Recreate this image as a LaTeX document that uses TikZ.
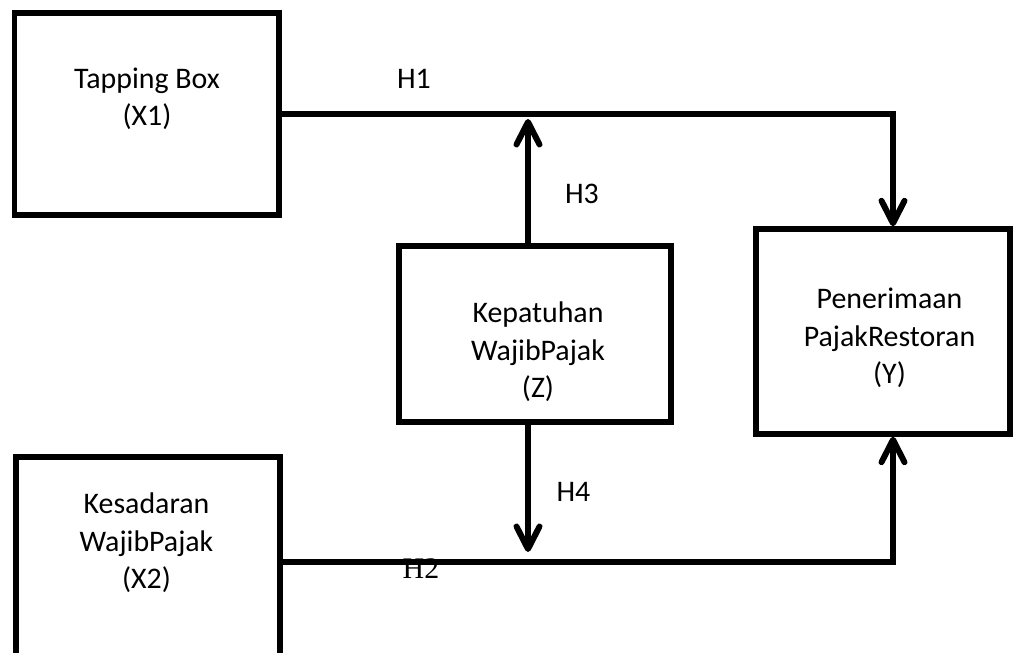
\documentclass[tikz,border=0pt]{standalone}
\usepackage{fontspec}
\setmainfont{Carlito}
\newfontfamily\timesfont{Liberation Serif}
\usetikzlibrary{arrows.meta}

\begin{document}
\begin{tikzpicture}[
    varbox/.style={draw, line width=3.1pt, inner sep=0pt},
    txt/.style={align=center, font=\fontsize{17}{21.3}\selectfont},
    link/.style={line width=3.4pt},
    arrowlink/.style={-{Straight Barb[round,length=0.45cm,width=0.46cm]}}
]
    \useasboundingbox (0,0) rectangle (20.4,-13.06);
    \node (tapping_box) [varbox, minimum width=5.29cm, minimum height=4.04cm] at (2.935,-2.28) {};
    \node (kesadaran_box) [varbox, minimum width=5.28cm, minimum height=4.2cm] at (2.96,-11.24) {};
    \node (kepatuhan_box) [varbox, minimum width=5.44cm, minimum height=3.52cm] at (10.7,-6.68) {};
    \node (restoran_box) [varbox, minimum width=5.08cm, minimum height=4.1cm] at (17.66,-6.63) {};
    \node (tapping_txt) [txt] at (2.94,-1.98) {Tapping Box\\(X1)};
    \node (kesadaran_txt) [txt] at (2.93,-10.86) {Kesadaran\\WajibPajak\\(X2)};
    \node (kepatuhan_txt) [txt] at (10.76,-7.04) {Kepatuhan\\WajibPajak\\(Z)};
    \node (restoran_txt) [txt] at (17.79,-6.76) {Penerimaan\\PajakRestoran\\(Y)};
    \node (h1) [txt] at (8.28,-1.57) {H1};
    \node (h3) [txt] at (11.64,-3.88) {H3};
    \node (h4) [txt] at (11.47,-9.84) {H4};
    \node (h2) [font=\fontsize{17}{20}\timesfont] at (8.42,-11.37) {H2};
    \coordinate (h1_turn) at (17.86,-2.28);
    \coordinate (h2_turn) at (17.86,-11.24);
    \coordinate (h3_top) at (10.56,-2.28);
    \coordinate (h4_end) at (10.56,-11.24);
    \draw [link, arrowlink] (tapping_box.east) to (h1_turn) to (h1_turn |- restoran_box.north);
    \draw [link, arrowlink] (kesadaran_box.east) to (h2_turn) to (h2_turn |- restoran_box.south);
    \draw [link, arrowlink, shorten >=0.1cm] (kepatuhan_box.north -| h3_top) to (h3_top);
    \draw [link, arrowlink, shorten >=0.2cm] (kepatuhan_box.south -| h4_end) to (h4_end);
\end{tikzpicture}
\end{document}
